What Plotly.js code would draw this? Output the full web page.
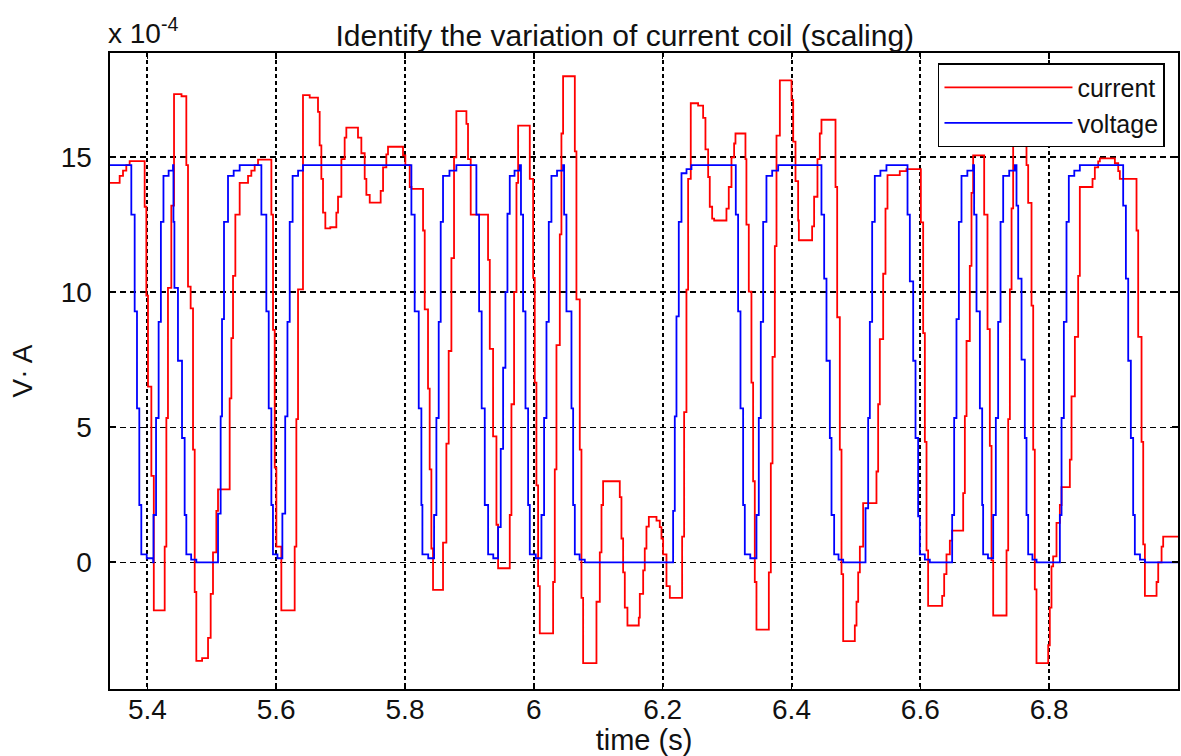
<!DOCTYPE html>
<html>
<head>
<meta charset="utf-8">
<script src="https://cdn.plot.ly/plotly-3.0.1.min.js"></script>
<style>
  html, body { margin: 0; padding: 0; background: #ffffff; }
  #chart { width: 1181px; height: 756px; }
</style>
</head>
<body>
<div id="chart"></div>
<script>
// ---- data (values in units of 1e-4) ----
var seriesNames = ["current", "voltage"];
var xTickVals = [5.4, 5.6, 5.8, 6.0, 6.2, 6.4, 6.6, 6.8];
var xTickText = ["5.4", "5.6", "5.8", "6", "6.2", "6.4", "6.6", "6.8"];
var yTickVals = [0, 5, 10, 15];
var yTickText = ["0", "5", "10", "15"];

var currentT = [5.3415,5.3570,5.3622,5.3673,5.3725,5.3958,5.3984,5.4010,5.4062,5.4100,
  5.4269,5.4295,5.4320,5.4372,5.4414,5.4530,5.4605,5.4631,5.4672,5.4709,
  5.4735,5.4760,5.4850,5.4942,5.4983,5.5019,5.5071,5.5097,5.5278,5.5304,
  5.5330,5.5366,5.5433,5.5563,5.5614,5.5666,5.5718,5.5925,5.5951,5.5977,
  5.6003,5.6080,5.6287,5.6313,5.6339,5.6416,5.6520,5.6649,5.6675,5.6701,
  5.6727,5.6763,5.6840,5.6934,5.6960,5.7012,5.7063,5.7089,5.7270,5.7322,
  5.7374,5.7400,5.7452,5.7622,5.7659,5.7710,5.7736,5.7969,5.8005,5.8073,
  5.8100,5.8280,5.8306,5.8357,5.8383,5.8409,5.8435,5.8590,5.8642,5.8678,
  5.8720,5.8761,5.8797,5.8953,5.8978,5.9020,5.9289,5.9316,5.9367,5.9419,
  5.9445,5.9626,5.9652,5.9693,5.9730,5.9756,5.9937,5.9989,6.0014,6.0040,
  6.0066,6.0092,6.0299,6.0325,6.0351,6.0403,6.0428,6.0454,6.0636,6.0661,
  6.0713,6.0739,6.0765,6.0972,6.1024,6.1050,6.1075,6.1334,6.1360,6.1386,
  6.1412,6.1453,6.1629,6.1645,6.1697,6.1722,6.1748,6.1785,6.1904,6.1955,
  6.1981,6.2007,6.2059,6.2111,6.2302,6.2333,6.2369,6.2395,6.2436,6.2550,
  6.2628,6.2664,6.2706,6.2731,6.2768,6.2799,6.2990,6.3026,6.3068,6.3109,
  6.3130,6.3285,6.3300,6.3337,6.3378,6.3404,6.3430,6.3456,6.3648,6.3679,
  6.3705,6.3741,6.3767,6.3819,6.4000,6.4026,6.4062,6.4103,6.4114,6.4320,
  6.4351,6.4403,6.4439,6.4465,6.4683,6.4709,6.4750,6.4776,6.4802,6.4983,
  6.5009,6.5035,6.5061,6.5112,6.5319,6.5345,6.5371,6.5423,6.5459,6.5490,
  6.5681,6.5785,6.6008,6.6044,6.6070,6.6096,6.6121,6.6339,6.6370,6.6406,
  6.6458,6.6494,6.6665,6.6691,6.6717,6.6768,6.6794,6.6820,6.6991,6.7043,
  6.7079,6.7105,6.7131,6.7338,6.7364,6.7390,6.7416,6.7441,6.7622,6.7648,
  6.7674,6.7726,6.7752,6.7777,6.7803,6.7985,6.8010,6.8036,6.8062,6.8114,
  6.8166,6.8192,6.8321,6.8347,6.8399,6.8450,6.8476,6.8673,6.8709,6.8761,
  6.8787,6.9020,6.9072,6.9097,6.9356,6.9382,6.9434,6.9460,6.9486,6.9667,
  6.9693,6.9745,6.9770,7.0000];
var currentV = [14.04,14.3,14.5,14.7,14.85,13.16,9.87,6.5,3.2,-1.78,
  0.58,5.34,10.16,13.2,17.33,17.25,14.7,10.2,9.4,4.17,
  -1.1,-3.65,-3.55,-2.8,-1.17,0.37,1.9,2.7,6.07,8.3,
  10.6,12.87,14.04,14.3,14.5,14.7,14.9,12.87,8.6,3.5,
  0.58,-1.78,0.58,5.3,10.1,17.29,17.2,16.67,15.43,14.19,
  12.94,12.36,12.4,12.94,13.53,14.92,15.72,16.09,15.72,15.14,
  14.19,13.6,13.31,13.75,14.62,15.1,15.38,15.06,14.7,13.89,
  13.82,12.28,9.36,6.43,3.44,0.51,-1.02,0.73,4.39,7.82,
  11.26,14.99,16.7,16.23,14.92,12.87,11.19,7.9,4.66,1.39,
  -0.22,1.75,5.85,10.0,14.04,16.16,14.19,10.53,6.65,2.85,
  -0.88,-2.63,-0.73,3.44,8.04,12.14,15.87,17.99,15.21,9.73,
  4.17,-1.32,-3.73,-1.46,0.37,2.12,3.0,2.41,0.88,-0.37,
  -1.68,-2.34,-2.05,-1.17,-0.3,0.51,1.32,1.68,1.54,1.3,
  0.88,0.29,-0.88,-1.32,0.95,5.56,10.09,14.19,16.99,16.9,
  16.45,15.28,14.26,13.16,12.72,12.65,13.09,13.89,14.99,15.5,
  15.87,14.92,12.5,10.02,6.65,3.0,-0.73,-2.49,-0.37,3.66,
  7.6,11.7,15.79,17.84,17.11,15.57,14.11,12.65,11.92,12.43,
  13.53,14.92,15.87,16.38,13.89,9.07,4.17,-0.44,-2.92,-2.34,
  -1.46,-0.37,0.58,2.19,3.36,5.85,8.26,10.68,13.09,14.33,
  14.48,14.55,12.58,8.48,4.46,0.44,-1.61,-1.24,-0.44,0.29,
  0.8,1.17,2.56,5.41,8.19,10.97,13.67,15.06,12.87,8.63,
  4.31,0.07,-1.97,0.44,5.3,10.1,13.1,17.6,16.5,14.7,
  13.3,9.5,4.17,-1.0,-3.73,-3.07,-1.68,-0.15,0.22,1.46,
  2.12,2.78,3.8,6.14,8.34,10.6,13.89,14.19,14.62,14.84,
  14.95,14.77,14.48,14.19,12.28,8.34,4.46,0.66,-1.24,-0.73,
  0.0,0.58,0.95,0.95];

var voltageT = [5.3415,5.3751,5.3803,5.3839,5.3875,5.3906,5.3990,5.4090,5.4095,5.4135,
  5.4175,5.4210,5.4250,5.4330,5.4398,5.4405,5.4420,5.4475,5.4538,5.4579,
  5.4605,5.4680,5.4760,5.5097,5.5138,5.5159,5.5190,5.5252,5.5340,5.5433,
  5.5770,5.5847,5.5884,5.5925,5.5950,5.6020,5.6096,5.6140,5.6175,5.6210,
  5.6255,5.6340,5.6416,5.8099,5.8150,5.8213,5.8254,5.8270,5.8360,5.8451,
  5.8487,5.8523,5.8554,5.8590,5.8690,5.8797,5.9108,5.9150,5.9190,5.9238,
  5.9290,5.9370,5.9445,5.9486,5.9523,5.9559,5.9590,5.9626,5.9700,5.9781,
  5.9800,5.9833,5.9870,5.9911,5.9937,6.0030,6.0118,6.0159,6.0196,6.0232,
  6.0273,6.0360,6.0454,6.0470,6.0506,6.0584,6.0610,6.0636,6.0710,6.0791,
  6.2162,6.2188,6.2214,6.2250,6.2292,6.2370,6.2447,6.3135,6.3171,6.3208,
  6.3249,6.3275,6.3360,6.3456,6.3492,6.3523,6.3560,6.3611,6.3700,6.3793,
  6.4465,6.4507,6.4543,6.4595,6.4621,6.4662,6.4730,6.4802,6.5149,6.5190,
  6.5216,6.5252,6.5293,6.5380,6.5474,6.5801,6.5837,6.5889,6.5925,6.5966,
  6.5992,6.6070,6.6147,6.6494,6.6525,6.6561,6.6598,6.6639,6.6730,6.6820,
  6.6835,6.6872,6.6924,6.6960,6.6975,6.7050,6.7131,6.7172,6.7208,6.7245,
  6.7286,6.7380,6.7467,6.7493,6.7519,6.7571,6.7622,6.7648,6.7674,6.7740,
  6.7804,6.8166,6.8192,6.8228,6.8269,6.8305,6.8390,6.8476,6.9149,6.9191,
  6.9227,6.9268,6.9304,6.9330,6.9410,6.9486,7.0000];
var voltageV = [14.7,12.87,9.29,5.70,2.12,0.29,0.15,0,1.75,5.34,
  8.9,12.6,14.3,14.5,14.7,12.6,10.16,7.46,4.6,1.75,
  0.29,0.1,0,1.8,5.4,9.0,12.6,14.3,14.5,14.7,
  12.87,9.29,5.70,2.12,0.29,0.15,1.8,5.4,8.9,12.6,
  14.3,14.5,14.7,12.87,9.29,5.70,2.12,0.29,0.15,1.75,
  5.34,8.9,12.6,14.3,14.5,14.7,12.87,9.29,5.70,2.12,
  0.29,0.15,1.3,4.2,7.2,10.0,12.9,14.3,14.5,14.7,
  12.87,9.29,5.7,2.12,0.29,0.15,1.75,5.34,8.9,12.6,
  14.3,14.5,14.7,12.87,9.29,5.7,2.12,0.29,0.1,0,
  1.9,5.4,9.1,12.6,14.4,14.55,14.7,12.87,9.29,5.70,
  2.12,0.29,0.15,1.75,5.34,8.9,12.6,14.3,14.5,14.7,
  12.87,10.5,7.46,4.6,1.75,0.29,0.1,0,2.0,5.34,
  8.9,12.6,14.3,14.5,14.7,12.87,10.4,7.46,4.6,1.7,
  0.29,0.1,0,1.75,5.34,9.0,12.6,14.3,14.5,14.7,
  12.87,9.29,5.7,2.12,0.29,0.15,1.75,5.34,8.9,12.6,
  14.3,14.5,14.7,13.2,10.5,7.5,4.6,1.75,0.29,0.1,
  0,1.75,5.34,8.9,12.6,14.3,14.5,14.7,13.2,10.5,
  7.46,4.6,1.75,0.29,0.1,0,0];

var xRange = [5.342, 7.0];
var yRange = [-4.69, 18.85];

var FONT = "Liberation Sans, Arial, sans-serif";
var TXT = "#111111";

var traces = [
  {x: currentT, y: currentV, name: seriesNames[0], type: "scatter", mode: "lines",
   line: {color: "#ff0000", width: 1.8, shape: "hv"}},
  {x: voltageT, y: voltageV, name: seriesNames[1], type: "scatter", mode: "lines",
   line: {color: "#0000ff", width: 1.8, shape: "hv"}}
];

var layout = {
  width: 1181, height: 756,
  paper_bgcolor: "#ffffff", plot_bgcolor: "#ffffff",
  margin: {l: 110, r: 3, t: 53, b: 67, pad: 0},
  font: {family: FONT, color: TXT, size: 24},
  title: {text: "Identify the variation of current coil (scaling)",
          font: {family: FONT, size: 30, color: TXT},
          x: 0.482, xanchor: "center", xref: "paper",
          y: 0.953, yanchor: "middle", yref: "container"},
  xaxis: {
    range: xRange, tickvals: xTickVals, ticktext: xTickText,
    showgrid: true, gridcolor: "#000000", gridwidth: 2, griddash: "4px,3px",
    zeroline: false, showline: true, linecolor: "#000000", linewidth: 1.6, mirror: "ticks",
    ticks: "inside", ticklen: 6, tickwidth: 1.6, tickcolor: "#000000",
    tickfont: {family: FONT, size: 28, color: TXT}, ticklabelstandoff: -5,
    title: {text: "time (s)", font: {family: FONT, size: 29, color: TXT}, standoff: 2}
  },
  yaxis: {
    range: yRange, tickvals: yTickVals, ticktext: yTickText,
    showgrid: true, gridcolor: "#000000", gridwidth: 1.3, griddash: "6px,4px",
    zeroline: false, showline: true, linecolor: "#000000", linewidth: 1.6, mirror: "ticks",
    ticks: "inside", ticklen: 6, tickwidth: 1.6, tickcolor: "#000000",
    tickfont: {family: FONT, size: 28, color: TXT}, ticklabelstandoff: 11,
    title: {text: "V\u00b7 A", font: {family: FONT, size: 28, color: TXT}, standoff: 20}
  },
  showlegend: true,
  legend: {
    x: 0.9878, xanchor: "right", y: 0.984, yanchor: "top",
    bgcolor: "#ffffff", bordercolor: "#000000", borderwidth: 1.5,
    font: {family: FONT, size: 25, color: TXT},
    itemwidth: 128, tracegroupgap: 0
  },
  annotations: [
    {text: "x 10<sup>-4</sup>", xref: "paper", yref: "paper", x: 0, y: 1,
     xanchor: "left", yanchor: "bottom", xshift: -4, yshift: 2, showarrow: false,
     font: {family: FONT, size: 28, color: TXT}}
  ]
};

Plotly.newPlot("chart", traces, layout, {displayModeBar: false, staticPlot: true});
</script>
</body>
</html>
